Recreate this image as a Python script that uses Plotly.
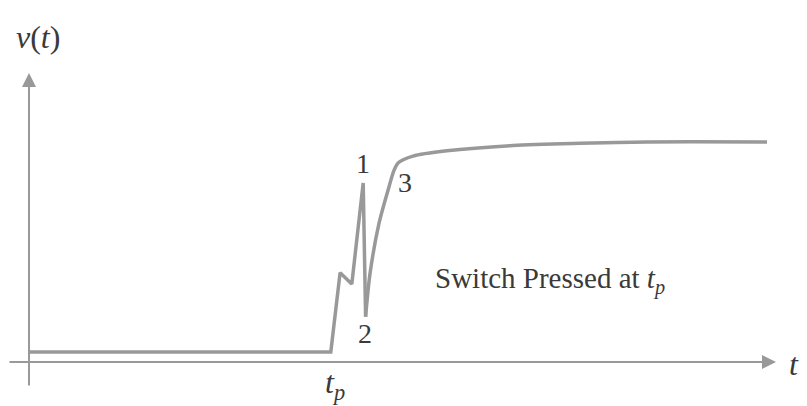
import plotly.graph_objects as go

# Signal v(t) of a bouncing switch (arbitrary units)
t_vals = [0, 10.06, 10.37, 10.76, 11.14, 11.22, 11.37, 11.67, 11.97, 12.17, 12.31,
          12.8, 13.93, 16.13, 18.37, 20.6, 24.6]
v_vals = [0.23, 0.23, 2.03, 1.77, 4.07, 1.03, 2.02, 3.16, 3.91, 4.36, 4.53,
          4.68, 4.80, 4.92, 4.97, 5.0, 5.0]
bounce_end = 5  # index of point "2": bounces are straight, recovery is smooth

# Labelled bounce points
pt_labels = ["1", "2", "3"]
pt_t = [11.13, 11.2, 12.53]
pt_v = [4.52, 0.64, 4.07]

t_p = 10.2
caption = "Switch Pressed at <i>t</i><sub><i>p</i></sub>"

GRAY = "rgb(153,153,153)"
TXT = "#3a3a3a"
FONT = "Liberation Serif"

fig = go.Figure()
fig.add_trace(go.Scatter(x=t_vals[:bounce_end + 1], y=v_vals[:bounce_end + 1], mode="lines",
                         line=dict(color=GRAY, width=3.5), hoverinfo="skip"))
fig.add_trace(go.Scatter(x=t_vals[bounce_end:], y=v_vals[bounce_end:], mode="lines",
                         line=dict(color=GRAY, width=3.5, shape="spline", smoothing=0.8),
                         hoverinfo="skip"))

annos = []
# axes arrows
annos.append(dict(x=24.9, y=0, ax=-0.7, ay=0, xref="x", yref="y", axref="x", ayref="y",
                  showarrow=True, arrowhead=2, arrowsize=1.4, arrowwidth=2,
                  arrowcolor=GRAY, text=""))
annos.append(dict(x=0, y=6.57, ax=0, ay=-0.57, xref="x", yref="y", axref="x", ayref="y",
                  showarrow=True, arrowhead=2, arrowsize=1.4, arrowwidth=2,
                  arrowcolor=GRAY, text=""))
for lab, tx, vy in zip(pt_labels, pt_t, pt_v):
    annos.append(dict(x=tx, y=vy, text=lab, showarrow=False,
                      font=dict(family=FONT, size=28, color=TXT)))
annos.append(dict(x=13.45, y=1.85, text=caption, showarrow=False, xanchor="left",
                  font=dict(family=FONT, size=29, color=TXT)))
annos.append(dict(x=25.5, y=-0.05, text="<i>t</i>", showarrow=False,
                  font=dict(family=FONT, size=32, color=TXT)))
annos.append(dict(x=t_p, y=-0.5, text="<i>t</i><sub><i>p</i></sub>", showarrow=False,
                  font=dict(family=FONT, size=32, color=TXT)))
annos.append(dict(x=0.3, y=7.39, text="<i>v</i>(<i>t</i>)", showarrow=False,
                  font=dict(family=FONT, size=32, color=TXT)))

fig.update_layout(
    width=799, height=398, margin=dict(l=0, r=0, t=0, b=0),
    paper_bgcolor="white", plot_bgcolor="white", showlegend=False,
    xaxis=dict(range=[-0.7, 25.933], visible=False),
    yaxis=dict(range=[-1.0, 8.045], visible=False),
    annotations=annos,
)
fig.write_html("out.html")
